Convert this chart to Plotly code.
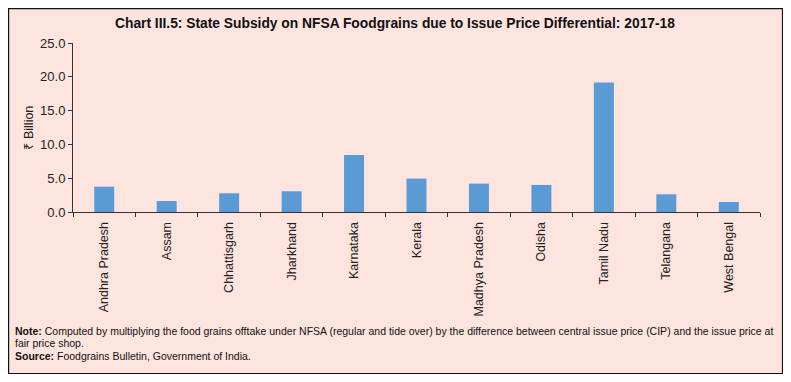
import plotly.graph_objects as go

states = ["Andhra Pradesh", "Assam", "Chhattisgarh", "Jharkhand", "Karnataka", "Kerala",
          "Madhya Pradesh", "Odisha", "Tamil Nadu", "Telangana", "West Bengal"]
subsidy = [3.75, 1.63, 2.77, 3.07, 8.44, 4.94, 4.2, 4.0, 19.16, 2.62, 1.48]
y_ticks = [0, 5, 10, 15, 20, 25]
y_tick_labels = ["0.0", "5.0", "10.0", "15.0", "20.0", "25.0"]

# The page body has an 8px margin, so the figure sits at (8, 8) in the window.
OFF = 8
WIN_W, WIN_H = 791, 382
W, H = WIN_W - OFF, WIN_H - OFF
# plot area in window pixels
L, R, T, B = 73, 760, 43, 212

def px(x):
    return (x - L) / (R - L)

def py(y):
    return (B - y) / (B - T)

fig = go.Figure()
fig.add_trace(go.Bar(x=states, y=subsidy, marker=dict(color="#5B9BD5", line=dict(width=0)),
                     width=0.32, hoverinfo="x+y"))

FONT = "Liberation Sans, Arial, sans-serif"
PINK = "#FDE4DE"
shapes = [
    dict(type="rect", xref="paper", yref="paper", layer="above",
         x0=px(782.5), x1=px(WIN_W + 2), y0=py(WIN_H + 2), y1=py(0), fillcolor="white", line=dict(width=0)),
    dict(type="rect", xref="paper", yref="paper", layer="above",
         x0=px(0), x1=px(WIN_W + 2), y0=py(WIN_H + 2), y1=py(373.5), fillcolor="white", line=dict(width=0)),
    dict(type="rect", xref="paper", yref="paper", layer="above",
         x0=px(8.6), x1=px(782.5), y0=py(373.5), y1=py(8.6),
         fillcolor="rgba(0,0,0,0)", line=dict(color="#111", width=1.2)),
]

fig.update_layout(
    width=W, height=H,
    margin=dict(l=L - OFF, r=WIN_W - R, t=T - OFF, b=WIN_H - B, pad=0),
    paper_bgcolor=PINK,
    plot_bgcolor=PINK,
    showlegend=False,
    font=dict(family=FONT, color="#222222", size=12),
    xaxis=dict(
        type="category", tickson="boundaries", ticks="outside", ticklen=4, tickcolor="#333",
        showline=True, linecolor="#333", linewidth=1, showgrid=False, tickangle=-90,
        tickfont=dict(size=12.5, color="#222"), range=[-0.5, 10.5], automargin=False,
        ticklabelstandoff=4,
    ),
    yaxis=dict(
        range=[0, 25], tickvals=y_ticks, ticktext=y_tick_labels, ticks="outside", ticklen=4,
        tickcolor="#333", showline=True, linecolor="#333", linewidth=1, showgrid=False,
        zeroline=False, tickfont=dict(size=13, color="#222"), automargin=False,
    ),
    shapes=shapes,
    annotations=[
        dict(text="₹ Billion", textangle=-90,
             xref="paper", yref="paper", x=px(28.5), y=py(128), xanchor="center", yanchor="middle",
             showarrow=False, font=dict(size=12.5, color="#222", family=FONT)),
        dict(text="<b>Chart III.5: State Subsidy on NFSA Foodgrains due to Issue Price Differential: 2017-18</b>",
             xref="paper", yref="paper", x=px(395), y=py(23), xanchor="center", yanchor="middle",
             showarrow=False, font=dict(size=13.8, color="#111", family=FONT)),
        dict(text="<b>Note:</b> Computed by multiplying the food grains offtake under NFSA (regular and tide over) by the difference between central issue price (CIP) and the issue price at",
             xref="paper", yref="paper", x=px(13), y=py(331), xanchor="left", yanchor="middle",
             showarrow=False, font=dict(size=10.5, color="#111", family=FONT)),
        dict(text="fair price shop.",
             xref="paper", yref="paper", x=px(13), y=py(343), xanchor="left", yanchor="middle",
             showarrow=False, font=dict(size=10.5, color="#111", family=FONT)),
        dict(text="<b>Source:</b> Foodgrains Bulletin, Government of India.",
             xref="paper", yref="paper", x=px(13), y=py(356), xanchor="left", yanchor="middle",
             showarrow=False, font=dict(size=10.5, color="#111", family=FONT)),
    ],
)

fig.write_html("out.html")
